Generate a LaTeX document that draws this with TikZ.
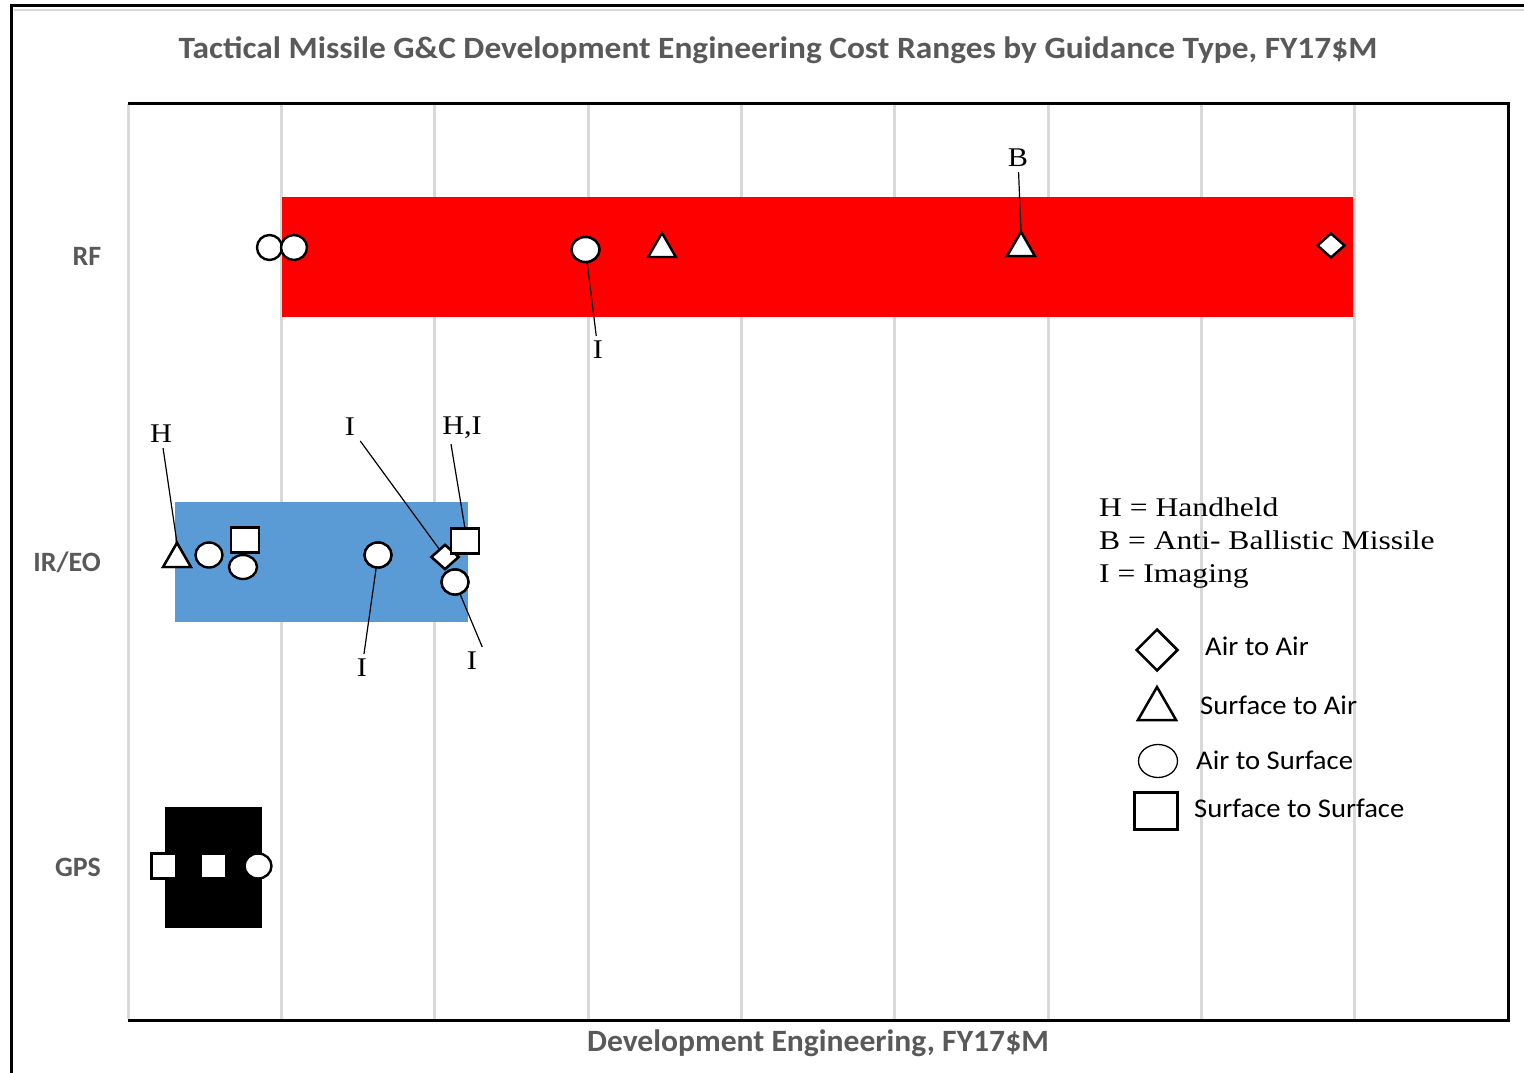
\documentclass[tikz,border=0pt]{standalone}
\usepackage{fontspec}
\usepackage{graphicx}
\setmainfont{Liberation Serif}
\setsansfont{Carlito}
\usetikzlibrary{shapes.geometric}
\definecolor{axisgray}{HTML}{595959}
\definecolor{gridgray}{HTML}{D9D9D9}
\definecolor{rfred}{HTML}{FF0000}
\definecolor{irblue}{HTML}{5B9BD5}
% horizontally stretched text
\newcommand\widetext[2]{\scalebox{#1}[1]{#2}}

\begin{document}
\begin{tikzpicture}[x=1pt,y=-1pt,
  mk/.style={draw=black, fill=white, line width=2.4pt, inner sep=0pt, outer sep=0pt},
  circ/.style={mk, ellipse, minimum width=27pt, minimum height=25pt},
  tri/.style={mk, regular polygon, regular polygon sides=3, minimum size=32pt},
  dia/.style={mk, diamond, minimum width=27pt, minimum height=24pt},
  sq/.style={mk, rectangle, minimum width=28pt, minimum height=25pt},
  tag/.style={font=\fontsize{27}{30}\selectfont, inner sep=5pt},
  leader/.style={draw=black, line width=1.2pt},
  heading/.style={font=\sffamily\bfseries\fontsize{31}{34}\selectfont, text=axisgray},
  cat/.style={font=\sffamily\bfseries\fontsize{28}{30}\selectfont, text=axisgray},
  keytext/.style={font=\fontsize{27}{30}\selectfont, anchor=base west, inner sep=0pt},
  keysans/.style={font=\sffamily\fontsize{27}{30}\selectfont, anchor=base west, inner sep=0pt},
  grid/.style={draw=gridgray, line width=3pt},
  frame/.style={draw=black, line width=3pt}
]
\useasboundingbox (0,0) rectangle (1524,1073);

% outer border of the chart area
\draw[draw=gridgray, line width=2pt] (14,10) -- (1524,10);
\draw[frame] (11,1073) -- (11,6) -- (1524,6);

% title
\node[heading] (title) at (778,50) {\widetext{1.077}{Tactical Missile G\&C Development Engineering Cost Ranges by Guidance Type, FY17\$M}};

% vertical grid lines
\foreach \gx in {128,281.33,434.67,588,741.33,894.67,1048,1201.33,1354.67}
  \draw[grid] (\gx,104) -- (\gx,1019);

% range bars
\fill[rfred] (282,197) rectangle (1353,317);
\fill[irblue] (175,502) rectangle (468,622);
\fill[black] (165,807) rectangle (262,928);

% plot frame
\draw[frame] (128,1020) -- (1508,1020) -- (1508,103) -- (128,103);

% category labels
\node[cat] (catRF) at (87,256) {RF};
\node[cat] (catIR) at (67,562) {IR/EO};
\node[cat] (catGPS) at (78,867) {GPS};

% axis title
\node[heading] (xtitle) at (818,1043) {\widetext{1.02}{Development Engineering, FY17\$M}};

% RF markers
\node[circ, minimum width=25pt] (rf1) at (269.5,247.5) {};
\node[circ, minimum width=26pt] (rf2) at (294,247.5) {};
\node[circ, minimum width=28pt] (rf3) at (585.5,249.5) {};
\node[tri] (rf4) at (662,249) {};
\node[tri] (rf5) at (1021,248) {};
\node[dia] (rf6) at (1331,245.5) {};

% IR/EO markers
\node[tri] (ir1) at (177,559) {};
\node[circ] (ir2) at (209,555) {};
\node[sq] (ir3) at (245,540) {};
\node[circ, minimum width=28pt, minimum height=24pt] (ir4) at (243,567) {};
\node[circ] (ir5) at (378,555) {};
\node[dia] (ir6) at (445,557) {};
\node[sq] (ir7) at (465,541) {};
\node[circ] (ir8) at (455,582) {};

% GPS markers
\node[sq, minimum width=25pt, minimum height=25pt] (gp1) at (164,866) {};
\node[fill=white, inner sep=0pt, minimum width=23pt, minimum height=22pt] (gp2) at (213,866) {};
\node[circ] (gp3) at (258,866) {};

% annotation letters
\node[tag] (tRF3) at (598,350) {\widetext{1.12}{I}};
\node[tag] (tRF5) at (1018,158) {\widetext{1.12}{B}};
\node[tag] (tIR1) at (161,434) {\widetext{1.12}{H}};
\node[tag] (tIR6) at (350,427) {\widetext{1.12}{I}};
\node[tag] (tIR7) at (462,428) {\widetext{1.12}{H,I}};
\node[tag] (tIR5) at (362,668) {\widetext{1.12}{I}};
\node[tag] (tIR8) at (472,661) {\widetext{1.12}{I}};

% leader lines
\draw[leader] (tRF3) -- (rf3);
\draw[leader] (tRF5) -- (rf5.north);
\draw[leader] (tIR1) -- (ir1.north);
\draw[leader] (tIR6) -- (ir6);
\draw[leader] ([xshift=-11pt]tIR7.south) -- (ir7.north);
\draw[leader] (tIR5) -- (ir5);
\draw[leader] (ir8) -- (tIR8.north east);

% redraw markers over the leader ends
\node[circ, minimum width=28pt] at (rf3) {};
\node[tri] at (rf5) {};
\node[tri] at (ir1) {};
\node[dia] at (ir6) {};
\node[sq] at (ir7) {};
\node[circ] at (ir5) {};
\node[circ] at (ir8) {};

% key to the letters
\node[keytext] (kH) at (1099,516) {\widetext{1.17}{H = Handheld}};
\node[keytext] (kB) at (1099,549) {\widetext{1.17}{B = Anti- Ballistic Missile}};
\node[keytext] (kI) at (1099,582) {\widetext{1.17}{I = Imaging}};

% key to the symbols
\node[draw=black, fill=white, line width=2.5pt, diamond, minimum width=42pt, minimum height=42pt, inner sep=0pt] (sAA) at (1157,650) {};
\node[draw=black, fill=white, line width=2.5pt, regular polygon, regular polygon sides=3, minimum size=44pt, inner sep=0pt] (sSA) at (1157,709) {};
\node[draw=black, fill=white, line width=1.3pt, ellipse, minimum width=39pt, minimum height=33pt, inner sep=0pt] (sAS) at (1158,761) {};
\node[draw=black, fill=white, line width=2.8pt, rectangle, minimum width=43pt, minimum height=37pt, inner sep=0pt] (sSS) at (1156,811) {};
\node[keysans] (lAA) at (1205,655) {\widetext{1.06}{Air to Air}};
\node[keysans] (lSA) at (1200,714) {\widetext{1.06}{Surface to Air}};
\node[keysans] (lAS) at (1196,769) {\widetext{1.06}{Air to Surface}};
\node[keysans] (lSS) at (1194,817) {\widetext{1.06}{Surface to Surface}};
\end{tikzpicture}
\end{document}
